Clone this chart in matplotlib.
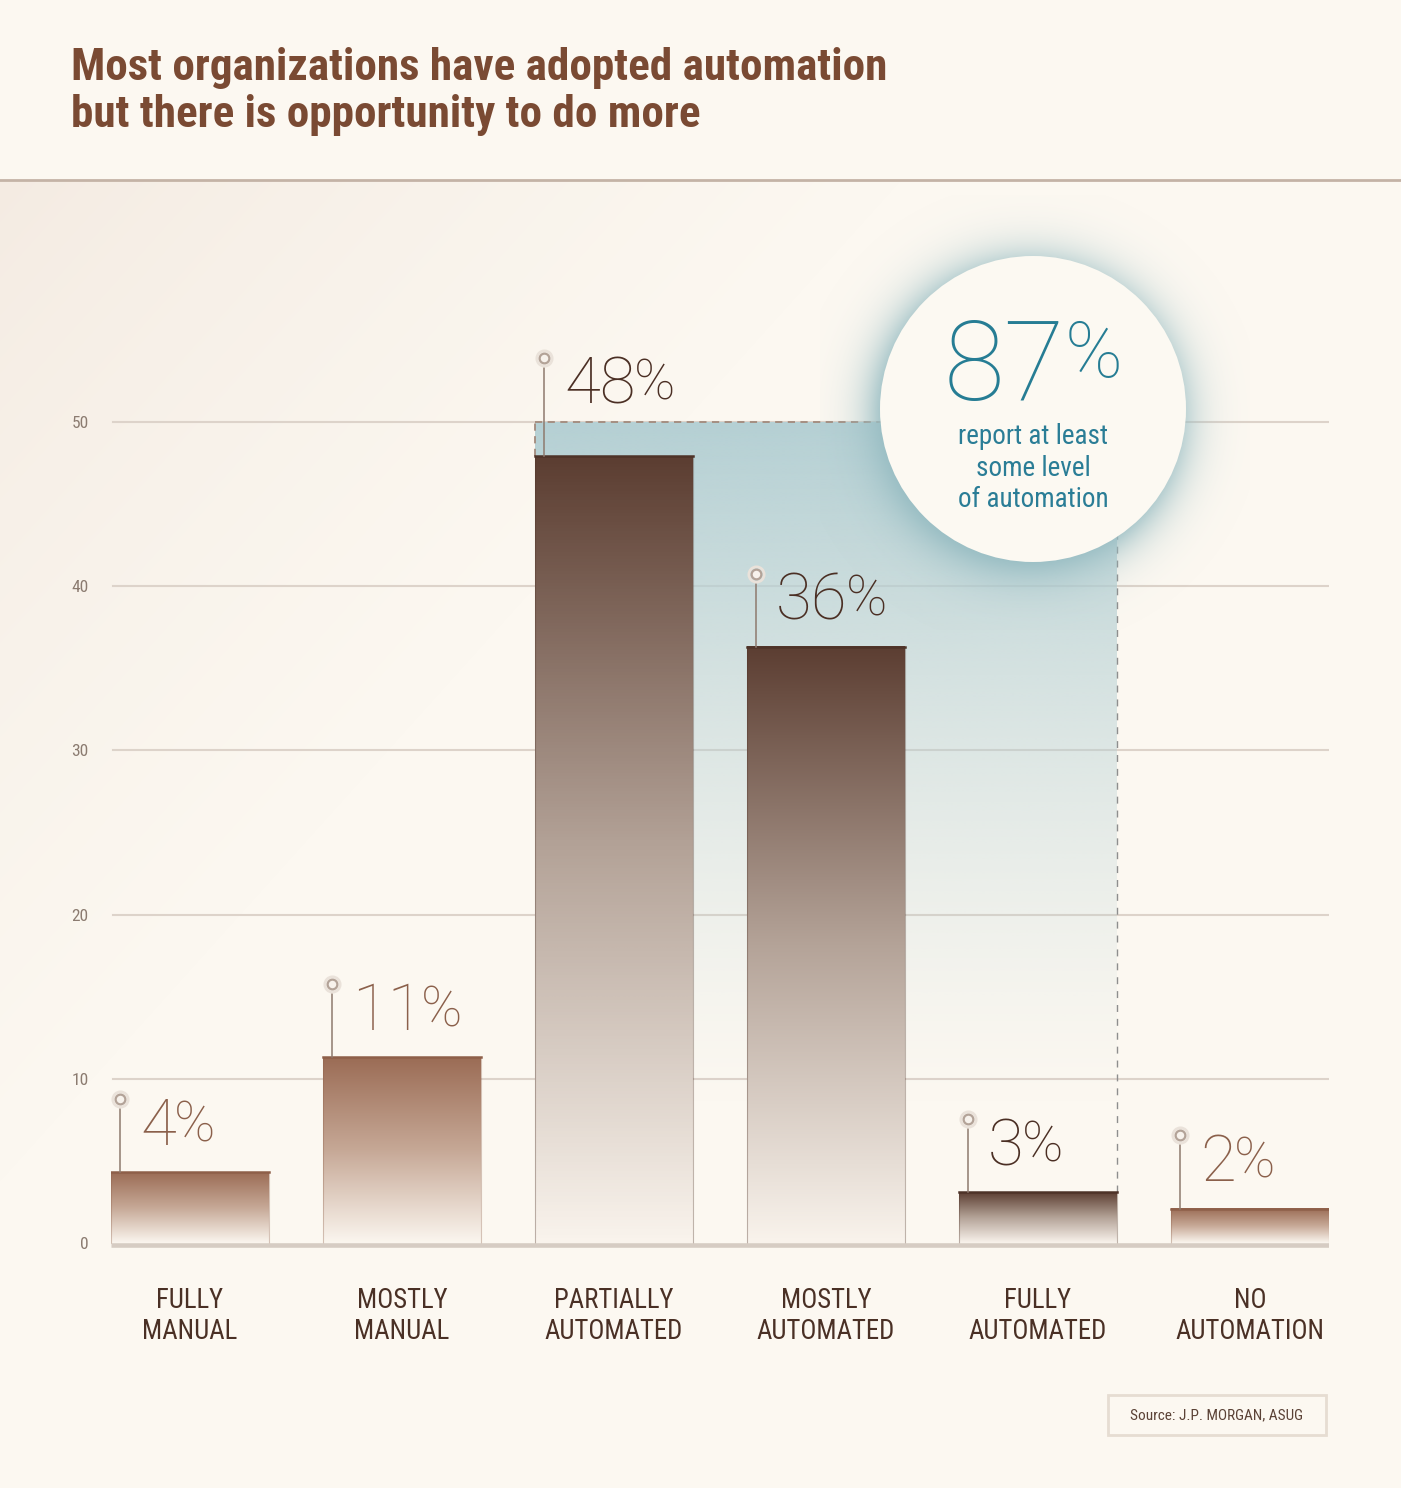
import numpy as np
import matplotlib
matplotlib.use('Agg')
import matplotlib.pyplot as plt
from matplotlib import font_manager
from matplotlib.patches import Rectangle, Circle
from matplotlib.colors import LinearSegmentedColormap, to_rgb

# data
categories = ['FULLY\nMANUAL', 'MOSTLY\nMANUAL', 'PARTIALLY\nAUTOMATED',
              'MOSTLY\nAUTOMATED', 'FULLY\nAUTOMATED', 'NO\nAUTOMATION']
bar_heights = [4.3, 11.3, 47.9, 36.3, 3.1, 2.1]
pct_labels = ['4', '11', '48', '36', '3', '2']
dark_bars = [False, False, True, True, True, False]
y_ticks = [0, 10, 20, 30, 40, 50]
highlight_bars = [2, 3, 4]
highlight_level = 50
summary_value = '87'
summary_text = 'report at least\nsome level\nof automation'
title = 'Most organizations have adopted automation\nbut there is opportunity to do more'
source = 'Source: J.P. MORGAN, ASUG'

W, H = 1401, 1488
BG = '#FCF8F1'
TEAL = '#267D94'

avail = {f.name for f in font_manager.fontManager.ttflist}


def pick(*names):
    for n in names:
        if n in avail:
            return n
    return 'DejaVu Sans'


NARROW = pick('Liberation Sans Narrow', 'Roboto Condensed', 'Open Sans Condensed', 'Roboto')
LIGHT = pick('Roboto', 'Open Sans', 'Lato')

fig = plt.figure(figsize=(W / 100, H / 100), dpi=100)
fig.patch.set_facecolor(BG)

# background layer in pixel coordinates
bg = fig.add_axes([0, 0, 1, 1], zorder=0)
bg.set_xlim(0, W)
bg.set_ylim(H, 0)
bg.axis('off')
gx, gy = np.meshgrid(np.arange(W), np.arange(181, H))
t = np.clip((gx + (gy - 181) * 0.9) / 900.0, 0, 1) ** 0.8
c0, c1 = np.array(to_rgb('#F4EBE2')), np.array(to_rgb(BG))
img = c0[None, None, :] * (1 - t[..., None]) + c1[None, None, :] * t[..., None]
bg.imshow(img, extent=(0, W, H, 181), aspect='auto', interpolation='bilinear')
bg.plot([0, W], [180, 180], color='#C4B3A6', lw=2)
bg.text(71, 47, title, ha='left', va='top', fontsize=32.5, fontweight='semibold',
        family=NARROW, color='#7A4A33', linespacing=1.16)

# main chart axes
px_per_unit = 16.42
y0_px = 1243
ylo, yhi = -0.3, 58
ax_bot = y0_px - ylo * px_per_unit
ax_top = y0_px - yhi * px_per_unit
ax = fig.add_axes([111 / W, 1 - ax_bot / H, 1218 / W, (ax_bot - ax_top) / H], zorder=2)
ax.patch.set_alpha(0)
for s in ax.spines.values():
    s.set_visible(False)

n = len(categories)
xs = np.arange(n)
bw = 0.745
ax.set_xlim(-bw / 2, n - 1 + bw / 2)
ax.set_ylim(ylo, yhi)

# grid lines
for tk in y_ticks[1:]:
    ax.plot([-bw / 2 + 0.01, n - 1 + bw / 2], [tk, tk], color='#DDD3CA', lw=1.5, zorder=1)

# highlight block behind the automated bars
hl = -bw / 2 + highlight_bars[0]
hr = highlight_bars[-1] + bw / 2
yy = np.linspace(0, highlight_level, 300)
alpha = np.clip((yy - 8) / (highlight_level - 8), 0, 1) ** 1.3
hi = np.zeros((300, 1, 4))
hi[..., :3] = to_rgb('#B5D0D4')
hi[:, 0, 3] = alpha
ax.imshow(hi, extent=(hl, hr, 0, highlight_level), origin='lower', aspect='auto',
          interpolation='bilinear', zorder=1.5)
ax.plot([hl, hr], [highlight_level] * 2, color='#A38A7C', lw=1.3, ls=(0, (4, 3)), zorder=2)
ax.plot([hl, hl], [bar_heights[highlight_bars[0]], highlight_level], color='#A38A7C',
        lw=1.3, ls=(0, (4, 3)), zorder=2)
ax.plot([hr, hr], [bar_heights[highlight_bars[-1]], highlight_level], color='#8E8E8E',
        lw=1, ls=(0, (5, 5)), zorder=2)

# bars with vertical gradient
grad = np.linspace(0, 1, 256).reshape(-1, 1)
for i, h in enumerate(bar_heights):
    if dark_bars[i]:
        cm = LinearSegmentedColormap.from_list('d', ['#F9F3EC', '#B4A398', '#5C3E32'])
        edge = '#4E3328'
    else:
        cm = LinearSegmentedColormap.from_list('l', ['#FBF6EF', '#C6A896', '#9B6C55'])
        edge = '#8E5F49'
    l, r = xs[i] - bw / 2, xs[i] + bw / 2
    ax.imshow(grad, extent=(l, r, 0, h), origin='lower', aspect='auto', cmap=cm,
              interpolation='bicubic', zorder=3)
    ax.plot([l, r], [h, h], color=edge, lw=1.8, zorder=4)
    ax.plot([l, l], [0, h], color=edge, lw=0.8, alpha=0.35, zorder=4)
    ax.plot([r, r], [0, h], color=edge, lw=0.8, alpha=0.35, zorder=4)

ax.plot([-bw / 2, n - 1 + bw / 2], [-0.12, -0.12], color='#D6CCC3', lw=3.3,
        solid_capstyle='butt', zorder=5)

# value labels with pin markers
for i, h in enumerate(bar_heights):
    lift = 6.0 if h > highlight_level - 5 else 4.45
    xd = xs[i] - bw / 2 + 0.042
    yd = h + lift
    col = '#4B2F24' if dark_bars[i] else '#8B604B'
    ax.plot([xd, xd], [h, yd - 0.6], color='#8E7A6E', lw=1.1, zorder=4)
    ax.plot(xd, yd, 'o', ms=11, mfc='none', mec='#EAE2DA', mew=2, zorder=5)
    ax.plot(xd, yd, 'o', ms=7, mfc='#F7F2EC', mec='#B3A398', mew=1.6, zorder=6)
    num = ax.annotate(pct_labels[i], xy=(xd, yd), xytext=(20, -46), textcoords='offset pixels',
                      ha='left', va='baseline', fontsize=47, family=LIGHT, fontweight='light',
                      color=col, zorder=6)
    ax.annotate('%', xy=(1, 1), xycoords=num, xytext=(-2, -3), textcoords='offset pixels',
                ha='left', va='top', fontsize=40, family=LIGHT, fontweight='light',
                color=col, zorder=6)

ax.set_yticks(y_ticks)
ax.set_yticklabels([str(v) for v in y_ticks], family=NARROW)
ax.tick_params(axis='y', length=0, pad=16, labelsize=12.5, labelcolor='#8B7B70')
ax.set_xticks(xs)
ax.set_xticklabels(categories, family=NARROW, linespacing=1.18)
ax.tick_params(axis='x', length=0, pad=28, labelsize=19.3, labelcolor='#4A3025')

# overlay: summary circle and source box
ov = fig.add_axes([0, 0, 1, 1], zorder=5)
ov.set_xlim(0, W)
ov.set_ylim(H, 0)
ov.axis('off')
cx, cy, R = 1033, 409, 153
ox, oy = np.meshgrid(np.arange(820, 1250), np.arange(195, 630))
d = np.hypot(ox - (cx - 5), oy - (cy + 6))
glow = np.zeros(ox.shape + (4,))
glow[..., :3] = to_rgb('#98BDC3')
glow[..., 3] = 0.9 * np.exp(-(np.clip(d - R + 8, 0, None) / 24.0) ** 1.3)
ov.imshow(glow, extent=(820, 1250, 630, 195), aspect='auto', interpolation='bilinear')
ov.add_patch(Circle((cx, cy), R, facecolor='#FCF9F2', edgecolor='none'))
big = ov.text(944, 400, summary_value, ha='left', va='baseline', fontsize=80,
              family=LIGHT, fontweight='light', color=TEAL)
ov.annotate('%', xy=(1, 1), xycoords=big, xytext=(-1, -2), textcoords='offset pixels',
            ha='left', va='top', fontsize=56, family=LIGHT, fontweight='light', color=TEAL)
ov.text(cx, 468, summary_text, ha='center', va='center', fontsize=19.5, family=NARROW,
        color='#2A7D96', linespacing=1.22)

ov.add_patch(Rectangle((1108, 1395), 218, 40, facecolor='none', edgecolor='#E6DDD2', lw=2))
ov.text(1217, 1415, source, ha='center', va='center', fontsize=11, family=NARROW,
        color='#5B4236')

fig.savefig('out.png', dpi=100, facecolor=BG)
